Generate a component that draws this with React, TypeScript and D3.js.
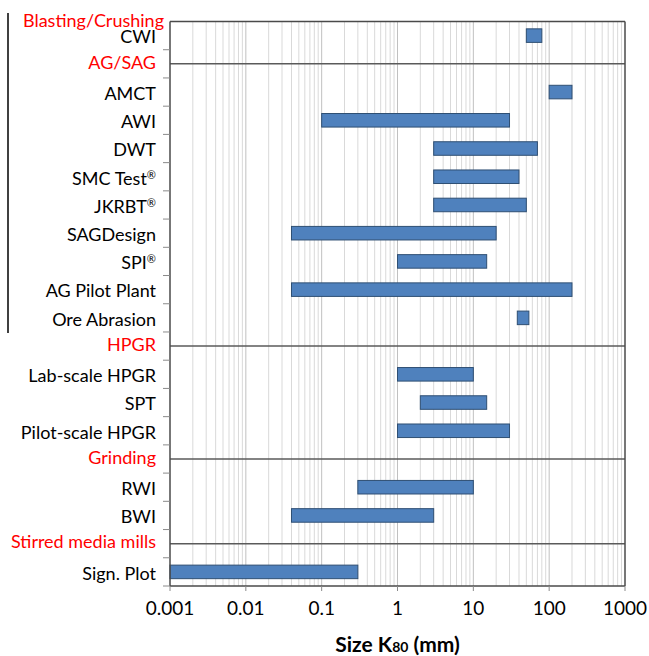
import React from 'react';
import * as d3 from 'd3';

// rows top to bottom; header rows carry a group name and a separator line
const rows = [
  'CWI', 'AG/SAG', 'AMCT', 'AWI', 'DWT', 'SMC Test®', 'JKRBT®', 'SAGDesign', 'SPI®',
  'AG Pilot Plant', 'Ore Abrasion', 'HPGR', 'Lab-scale HPGR', 'SPT', 'Pilot-scale HPGR',
  'Grinding', 'RWI', 'BWI', 'Stirred media mills', 'Sign. Plot',
];
const headers = ['AG/SAG', 'HPGR', 'Grinding', 'Stirred media mills'];
const topHeader = 'Blasting/Crushing';

// K80 size ranges (mm)
const testNames = [
  'CWI', 'AMCT', 'AWI', 'DWT', 'SMC Test®', 'JKRBT®', 'SAGDesign', 'SPI®', 'AG Pilot Plant',
  'Ore Abrasion', 'Lab-scale HPGR', 'SPT', 'Pilot-scale HPGR', 'RWI', 'BWI', 'Sign. Plot',
];
const minSize = [50, 100, 0.1, 3, 3, 3, 0.04, 1, 0.04, 38, 1, 2, 1, 0.3, 0.04, 0.001];
const maxSize = [80, 200, 30, 70, 40, 50, 20, 15, 200, 54, 10, 15, 30, 10, 3, 0.3];

const xTicks = [0.001, 0.01, 0.1, 1, 10, 100, 1000];
const xTickLabels = ['0.001', '0.01', '0.1', '1', '10', '100', '1000'];

const W = 649;
const H = 656;
const m = { left: 170, right: 625, top: 21.5, bottom: 586 };
const font = 'Lato, "Open Sans", sans-serif';

// draw a trailing ® as a small raised mark, like the original
const label = (s: string) =>
  s.endsWith('®') ? (
    <>
      {s.slice(0, -1)}
      <tspan fontSize={11} dy={-6}>®</tspan>
    </>
  ) : (
    s
  );

export default function App() {
  const x = d3.scaleLog().domain([0.001, 1000]).range([m.left, m.right]);
  const y = d3.scaleBand().domain(rows).range([m.top, m.bottom]);
  const bw = y.bandwidth();
  const barH = bw * 0.48;

  const minor: number[] = [];
  for (let e = -3; e < 3; e++) {
    for (let k = 2; k <= 9; k++) minor.push(k * Math.pow(10, e));
  }

  const bars = testNames.map((n, i) => ({ name: n, lo: minSize[i], hi: maxSize[i] }));
  const cy = (r: string) => (y(r) as number) + bw / 2;

  return (
    <svg width={W} height={H} style={{ position: 'absolute', left: 0, top: 0 }} fontFamily={font}>
      <rect width={W} height={H} fill="#fff" />
      {/* gridlines */}
      {minor.map((v) => (
        <line key={'m' + v} x1={x(v)} x2={x(v)} y1={m.top} y2={m.bottom} stroke="#d9d9d9" strokeWidth={1} />
      ))}
      {xTicks.slice(1, -1).map((v) => (
        <line key={'g' + v} x1={x(v)} x2={x(v)} y1={m.top} y2={m.bottom} stroke="#c0c0c0" strokeWidth={1} />
      ))}
      {/* group separators */}
      {headers.map((h) => (
        <line key={'h' + h} x1={m.left} x2={m.right} y1={cy(h)} y2={cy(h)} stroke="#5a5a5a" strokeWidth={1.5} />
      ))}
      {/* bars */}
      {bars.map((b) => (
        <rect
          key={b.name}
          x={x(b.lo)}
          y={cy(b.name) - barH / 2}
          width={x(b.hi) - x(b.lo)}
          height={barH}
          fill="#4f81bd"
          stroke="#2f4f73"
          strokeWidth={1}
        />
      ))}
      {/* frame */}
      <line x1={m.left} x2={m.right} y1={m.top} y2={m.top} stroke="#4a4a4a" strokeWidth={1.5} />
      <line x1={m.right} x2={m.right} y1={m.top} y2={m.bottom} stroke="#4a4a4a" strokeWidth={1.5} />
      <line x1={m.left} x2={m.right} y1={m.bottom} y2={m.bottom} stroke="#4a4a4a" strokeWidth={1.5} />
      <line x1={m.left} x2={m.left} y1={m.top} y2={m.bottom} stroke="#4a4a4a" strokeWidth={1.5} />
      {/* y ticks at band edges */}
      {rows.slice(1).map((r) => (
        <line key={'t' + r} x1={m.left - 7} x2={m.left} y1={y(r)} y2={y(r)} stroke="#8a8a8a" strokeWidth={1} />
      ))}
      <line x1={m.left - 7} x2={m.left} y1={m.bottom} y2={m.bottom} stroke="#8a8a8a" strokeWidth={1} />
      {/* x ticks */}
      {xTicks.map((v, i) => (
        <g key={'x' + v}>
          <line x1={x(v)} x2={x(v)} y1={m.bottom} y2={m.bottom + 5} stroke="#8a8a8a" strokeWidth={1} />
          <text x={x(v)} y={615} textAnchor="middle" fontSize={19} fill="#000">
            {xTickLabels[i]}
          </text>
        </g>
      ))}
      {/* row labels */}
      {rows.map((r) => {
        const isHead = headers.includes(r);
        return (
          <text
            key={'l' + r}
            x={156}
            y={cy(r) + (isHead ? -1.5 : 1.5)}
            dy="0.35em"
            textAnchor="end"
            fontSize={18}
            fill={isHead ? '#ff0000' : '#000'}
          >
            {label(r)}
          </text>
        );
      })}
      <text x={164} y={27} textAnchor="end" fontSize={18} fill="#ff0000">
        {topHeader}
      </text>
      {/* left bracket */}
      <line x1={8} x2={8} y1={13} y2={333} stroke="#000" strokeWidth={1.5} />
      {/* axis title */}
      <text x={(m.left + m.right) / 2} y={652} textAnchor="middle" fontSize={21} fontWeight="bold" fill="#000">
        Size K<tspan fontSize={14}>80</tspan> (mm)
      </text>
    </svg>
  );
}
